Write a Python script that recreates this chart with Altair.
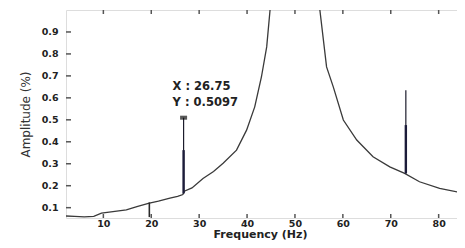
import altair as alt
import pandas as pd

# ---- data ----
freq = [2.2, 4, 6, 8, 9.6, 12, 14.8, 17, 19.4, 21.5, 23.9, 25.5, 26.6, 26.9, 28.5,
        30.8, 33, 35.0, 37.8, 39.9, 41.6, 43.0, 44.1, 44.8, 46, 48, 50, 52, 54,
        55.2, 56.6, 58.0, 60.1, 62.9, 66.3, 69.8, 72.9, 76.0, 80.2, 85.5]
amp = [0.062, 0.060, 0.058, 0.060, 0.075, 0.082, 0.090, 0.105, 0.120, 0.130, 0.143,
       0.152, 0.160, 0.175, 0.190, 0.233, 0.265, 0.302, 0.362, 0.453, 0.559, 0.695,
       0.832, 1.0, 1.4, 2.5, 3.0, 2.5, 1.4, 1.0, 0.741, 0.650, 0.499, 0.408, 0.332,
       0.286, 0.256, 0.218, 0.188, 0.165]

spike_freq = [26.75, 73.15]
spike_base = [0.165, 0.256]
spike_mid = [0.362, 0.476]
spike_top = [0.5097, 0.635]

dip_freq = [19.6]
dip_top = [0.124]
dip_bottom = [0.057]

x_ticks = [10, 20, 30, 40, 50, 60, 70, 80]
y_ticks = [0.1, 0.2, 0.3, 0.4, 0.5, 0.6, 0.7, 0.8, 0.9]

marker_f = [26.75]
marker_a = [0.5097]
marker_lines = ["X : 26.75", "Y : 0.5097"]

X_DOMAIN = [2.2, 85.5]
Y_DOMAIN = [0.053, 1.0]
W, H = 399, 208
FONT = "DejaVu Sans"

xs = alt.Scale(domain=X_DOMAIN, nice=False, zero=False)
ys = alt.Scale(domain=Y_DOMAIN, nice=False, zero=False)

x_axis = alt.Axis(
    title="Frequency (Hz)", values=x_ticks, format="d", ticks=False, tickSize=0,
    labelPadding=0, labelFont=FONT, labelFontSize=9.5, labelFontWeight="bold",
    labelColor="#222", titleFont=FONT, titleFontSize=11, titleFontWeight="bold",
    titleColor="#222", titleBaseline="alphabetic", titleY=19.5, titleX=194,
    domain=False, grid=False)
y_axis = alt.Axis(
    title="Amplitude (%)", values=y_ticks, format=".1f", ticks=False, tickSize=0,
    labelPadding=8, labelFont=FONT, labelFontSize=9.5, labelFontWeight="bold",
    labelColor="#222", titleFont=FONT, titleFontSize=12, titleFontWeight="normal",
    titleColor="#333", titlePadding=9, domain=False, grid=False)


def X(field):
    return alt.X(field, scale=xs, axis=x_axis)


def Y(field):
    return alt.Y(field, scale=ys, axis=y_axis)


curve_df = pd.DataFrame({"f": freq, "a": amp})
curve = alt.Chart(curve_df).mark_line(color="#3a3a3a", strokeWidth=1.3, clip=True).encode(
    x=X("f:Q"), y=Y("a:Q"))

spike_df = pd.DataFrame({"f": spike_freq, "a": spike_base, "m": spike_mid, "t": spike_top})
spike_thin = alt.Chart(spike_df).mark_rule(color="#1c1c2c", strokeWidth=1.2).encode(
    x=X("f:Q"), y=Y("a:Q"), y2="t:Q")
spike_thick = alt.Chart(spike_df).mark_rule(color="#1c1c3a", strokeWidth=2.4).encode(
    x=X("f:Q"), y=Y("a:Q"), y2="m:Q")

dip_df = pd.DataFrame({"f": dip_freq, "a": dip_bottom, "t": dip_top})
dip = alt.Chart(dip_df).mark_rule(color="#2a2a2a", strokeWidth=1.6).encode(
    x=X("f:Q"), y=Y("a:Q"), y2="t:Q")

xt_df = pd.DataFrame({"f": x_ticks})
xt_bottom = alt.Chart(xt_df).mark_rule(color="#555", strokeWidth=1.5).encode(
    x=X("f:Q"), y=alt.value(H), y2=alt.value(H - 4))
xt_top = alt.Chart(xt_df).mark_rule(color="#555", strokeWidth=1.5).encode(
    x=X("f:Q"), y=alt.value(0), y2=alt.value(4))

yt_df = pd.DataFrame({"a": y_ticks})
yt_left = alt.Chart(yt_df).mark_rule(color="#555", strokeWidth=1.5).encode(
    y=Y("a:Q"), x=alt.value(0), x2=alt.value(5))
yt_right = alt.Chart(yt_df).mark_rule(color="#555", strokeWidth=1.5).encode(
    y=Y("a:Q"), x=alt.value(W), x2=alt.value(W - 5))

marker_df = pd.DataFrame({"f": marker_f, "a": marker_a})
marker = alt.Chart(marker_df).mark_tick(
    orient="horizontal", size=7, thickness=4, color="#111").encode(
    x=X("f:Q"), y=Y("a:Q"))

labels = []
for line, dy in zip(marker_lines, [-30.5, -14.5]):
    ldf = pd.DataFrame({"f": marker_f, "a": marker_a, "label": [line]})
    labels.append(alt.Chart(ldf).mark_text(
        align="left", baseline="middle", dx=-11, dy=dy, font=FONT, fontSize=11.5,
        fontWeight="bold", color="#222").encode(
        x=X("f:Q"), y=Y("a:Q"), text="label:N"))

chart = alt.layer(curve, dip, spike_thin, spike_thick, xt_bottom, xt_top, yt_left,
                  yt_right, marker, *labels).properties(
    width=W, height=H,
    padding={"left": 58, "top": 2, "right": -8, "bottom": 22},
    autosize=alt.AutoSizeParams(type="none"),
).configure_view(stroke="#9a9a9a", strokeWidth=2).configure(background="white")

chart.save("out.html", embed_options={"renderer": "svg", "actions": False})
